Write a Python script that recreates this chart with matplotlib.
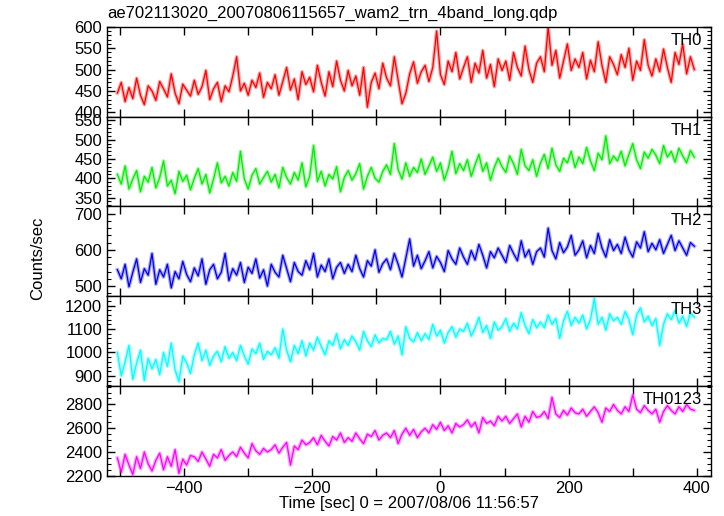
import matplotlib
matplotlib.use("Agg")
import matplotlib.pyplot as plt
from matplotlib.ticker import MultipleLocator
import numpy as np

plt.rcParams['font.family'] = ['Liberation Sans', 'DejaVu Sans']

# time bins: 6 s each, starting at -504 s
t_start = -504
bin_sec = 6

th0 = [445, 470, 425, 458, 432, 480, 440, 418, 462, 450,
       428, 472, 455, 436, 490, 445, 420, 466, 452, 438,
       475, 442, 460, 498, 430, 455, 470, 425, 462, 448,
       485, 530, 450, 468, 440, 475, 458, 492, 435, 470,
       455, 488, 440, 472, 505, 452, 478, 430, 495, 465,
       482, 448, 510, 470, 438, 495, 460, 520, 475, 450,
       498, 462, 485, 440, 505, 412, 470, 492, 455, 515,
       480, 462, 530, 475, 420, 445, 490, 518, 468, 495,
       510, 472, 505, 590, 488, 465, 520, 495, 540, 478,
       505, 530, 470, 515, 492, 545, 480, 512, 460, 525,
       498, 520, 475, 540, 505, 485, 555, 500, 470, 515,
       530, 495, 600, 510, 545, 480, 520, 560, 498, 525,
       505, 540, 478, 522, 495, 565, 510, 470, 530, 512,
       488, 535, 505, 550, 475, 520, 498, 570, 510, 485,
       525, 495, 548, 505, 470, 540, 512, 560, 490, 530,
       500]

th1 = [410, 385, 432, 372, 398, 420, 365, 405, 390, 428,
       375, 402, 445, 380, 395, 360, 418, 392, 408, 370,
       400, 425, 385, 410, 362, 398, 440, 388, 405, 380,
       415, 392, 470, 398, 372, 408, 425, 385, 402, 418,
       390, 410, 375, 428, 402, 385, 415, 395, 440, 378,
       405, 485, 392, 418, 380, 410, 398, 430, 365, 402,
       420, 395, 412, 438, 372, 405, 428, 400, 390, 418,
       435, 410, 490, 422, 398, 440, 405, 428, 415, 450,
       410, 432, 455, 418, 440, 395, 425, 470, 412, 438,
       420, 448, 405, 435, 462, 418, 440, 395, 428, 452,
       430, 415, 458, 438, 410, 475, 432, 420, 448, 405,
       440, 462, 425, 478, 435, 418, 452, 440, 470, 428,
       455, 438, 480, 445, 420, 465, 448, 510, 438, 458,
       445, 470, 432, 462, 490, 448, 425, 468, 452, 475,
       460, 438, 485, 455, 470, 442, 478, 458, 440, 472,
       455]

th2 = [545, 520, 560, 498, 538, 575, 510, 548, 530, 590,
       505, 545, 525, 560, 495, 540, 520, 568, 532, 512,
       550, 528, 575, 505, 545, 560, 520, 538, 590, 515,
       548, 530, 565, 510, 552, 535, 575, 522, 545, 500,
       560, 538, 525, 585, 548, 512, 565, 540, 530, 570,
       545, 590, 525, 558, 540, 575, 520, 552, 565, 535,
       560, 540, 585, 548, 525, 570, 555, 600, 538, 562,
       575, 545, 590, 560, 525, 578, 630, 555, 585, 548,
       570, 595, 550, 582, 565, 540, 598, 575, 560, 605,
       580, 560, 598, 572, 615, 585, 550, 595, 578, 605,
       585, 565, 612, 590, 570, 625, 580, 600, 560, 595,
       605, 580, 660, 598, 575, 620, 592, 608, 640, 585,
       600, 625, 578, 612, 590, 645, 605, 580, 628, 598,
       615, 590, 635, 600, 580, 622, 605, 650, 595, 618,
       600, 628, 590, 615, 640, 598, 625, 605, 585, 620,
       610]

th3 = [1000, 900, 960, 1030, 885, 955, 1010, 880, 975, 930,
       970, 905, 1000, 940, 1040, 925, 875, 985, 955, 910,
       990, 1040, 965, 1010, 945, 985, 1005, 960, 1025, 975,
       1000, 965, 1030, 985, 950, 1015, 995, 1040, 970, 1005,
       990, 1020, 975, 1100, 1010, 960, 1030, 995, 1050, 985,
       1040, 1010, 1065, 1025, 990, 1050, 1030, 1080, 1015, 1055,
       1030, 1070, 1045, 1010, 1090, 1050, 1025, 1075, 1040, 1060,
       1055, 1090, 1035, 1070, 990, 1110, 1060, 1045, 1085, 1050,
       1080, 1055, 1120, 1070, 1095, 1040, 1085, 1110, 1065, 1100,
       1090, 1125, 1070, 1105, 1150, 1085, 1115, 1060, 1130, 1095,
       1110, 1145, 1090, 1125, 1100, 1170, 1115, 1080, 1140, 1105,
       1130, 1105, 1160, 1120, 1145, 1060, 1135, 1175, 1115, 1150,
       1125, 1160, 1100, 1140, 1230, 1120, 1150, 1095, 1165, 1135,
       1150, 1120, 1175, 1140, 1075, 1160, 1190, 1130, 1155, 1115,
       1145, 1030, 1120, 1165, 1140, 1180, 1125, 1155, 1110, 1170,
       1150]

th0123 = [2350, 2230, 2380, 2290, 2210, 2360, 2260, 2400, 2300, 2240,
          2330, 2390, 2250, 2360, 2280, 2420, 2220, 2340, 2290, 2370,
          2360, 2320, 2400, 2340, 2280, 2380, 2350, 2420, 2330, 2370,
          2400, 2360, 2440, 2390, 2350, 2470, 2410, 2380, 2430, 2400,
          2420, 2460, 2390, 2440, 2480, 2290, 2450, 2420, 2500, 2460,
          2480, 2520, 2460, 2540, 2490, 2450, 2530, 2500, 2560, 2480,
          2520, 2490, 2560, 2510, 2470, 2550, 2530, 2580, 2500, 2540,
          2560, 2520, 2580, 2470, 2550, 2600, 2540, 2590, 2520, 2570,
          2600, 2560, 2630, 2590, 2650, 2580, 2620, 2560, 2640, 2610,
          2630, 2670, 2610, 2650, 2560, 2690, 2640, 2660, 2620, 2700,
          2660, 2700, 2640, 2680, 2720, 2610, 2700, 2650, 2740, 2690,
          2700, 2740, 2680, 2860, 2720, 2690, 2750, 2710, 2770, 2730,
          2720, 2760, 2700, 2740, 2780, 2730, 2650, 2770, 2740, 2800,
          2750, 2720, 2780, 2740, 2880, 2760, 2730, 2790, 2750, 2720,
          2760, 2650, 2740, 2790, 2750, 2720, 2780, 2740, 2800, 2760,
          2750]

series = [th0, th1, th2, th3, th0123]
names = ["TH0", "TH1", "TH2", "TH3", "TH0123"]
colors = ["#ff0000", "#00ee00", "#0000ee", "#00ffff", "#ff00ff"]
ylims = [(390, 600), (327, 560), (472, 720), (857, 1240), (2200, 2955)]
ymaj = [50, 50, 100, 100, 200]
ymin = [10, 10, 20, 20, 50]

t = t_start + bin_sec * np.arange(len(th0))

fig, axs = plt.subplots(5, 1, figsize=(7.24, 5.16), dpi=100, sharex=True)
fig.subplots_adjust(left=0.148, right=0.982, top=0.948, bottom=0.078, hspace=0)

for ax, y, name, c, yl, mj, mn in zip(axs, series, names, colors, ylims, ymaj, ymin):
    # light halo standing in for the error bars
    ax.plot(t, y, color=c, lw=2.6, alpha=0.35)
    ax.plot(t, y, color=c, lw=0.9)
    ax.set_xlim(-520, 422)
    ax.set_ylim(*yl)
    ax.xaxis.set_major_locator(MultipleLocator(200))
    ax.xaxis.set_minor_locator(MultipleLocator(100))
    ax.yaxis.set_major_locator(MultipleLocator(mj))
    ax.yaxis.set_minor_locator(MultipleLocator(mn))
    ax.tick_params(which='both', direction='in', top=True, right=True, labelsize=12)
    ax.tick_params(which='major', length=6, width=1)
    ax.tick_params(axis='x', which='minor', length=6, width=1)
    ax.tick_params(axis='y', which='minor', length=3, width=0.8)
    for s in ax.spines.values():
        s.set_linewidth(1.0)
    ax.text(0.985, 0.93, name, transform=ax.transAxes, ha='right', va='top', fontsize=12)

fig.text(0.148, 0.966, "ae702113020_20070806115657_wam2_trn_4band_long.qdp", fontsize=12, ha='left', va='baseline')
fig.text(0.052, 0.5, "Counts/sec", rotation=90, fontsize=12, ha='center', va='center')
fig.text(0.565, 0.016, "Time [sec] 0 = 2007/08/06 11:56:57", fontsize=12, ha='center', va='baseline')

fig.savefig("out.png", dpi=100)
